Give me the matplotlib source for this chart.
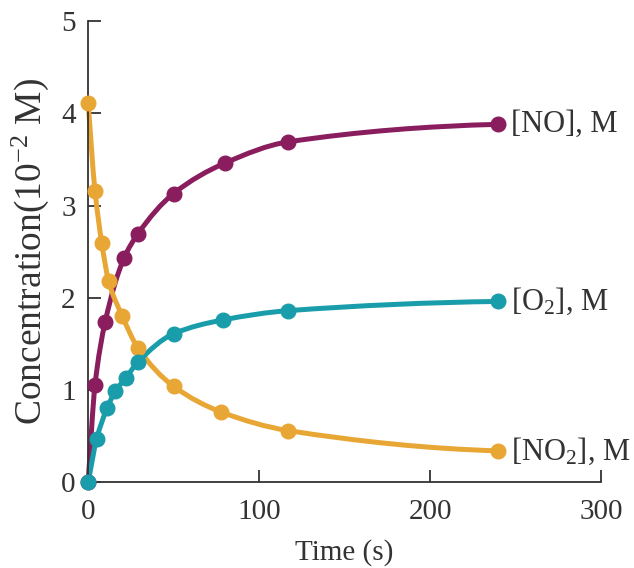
import numpy as np
import matplotlib.pyplot as plt
from matplotlib.path import Path
from matplotlib.patches import PathPatch

plt.rcParams['font.family'] = ['Liberation Serif', 'DejaVu Serif']
plt.rcParams['mathtext.fontset'] = 'custom'
plt.rcParams['mathtext.rm'] = 'Liberation Serif'
plt.rcParams['mathtext.it'] = 'Liberation Serif:italic'

# data (time in s, concentration in 10^-2 M)
no_t = [0, 4, 10, 21, 29, 50, 80, 117, 240]
no_c = [0, 1.05, 1.74, 2.43, 2.69, 3.13, 3.46, 3.69, 3.88]
o2_t = [0, 5, 11, 16, 22, 29, 50, 79, 117, 240]
o2_c = [0, 0.47, 0.80, 0.99, 1.13, 1.30, 1.61, 1.76, 1.86, 1.96]
no2_t = [0, 4, 8, 12, 20, 29, 50, 78, 117, 240]
no2_c = [4.11, 3.16, 2.59, 2.18, 1.80, 1.46, 1.04, 0.76, 0.56, 0.34]

labels = [r'[NO], M', r'[O$_2$], M', r'[NO$_2$], M']
colors = ['#8a1d5e', '#1a9daa', '#e8a635']


def pchip_slopes(x, y):
    x = np.asarray(x, float)
    y = np.asarray(y, float)
    h = np.diff(x)
    d = np.diff(y) / h
    m = np.zeros_like(y)
    for k in range(1, len(x) - 1):
        if d[k - 1] * d[k] > 0:
            w1 = 2 * h[k] + h[k - 1]
            w2 = h[k] + 2 * h[k - 1]
            m[k] = (w1 + w2) / (w1 / d[k - 1] + w2 / d[k])
    m[0] = d[0]
    m[-1] = d[-1] * 0.3
    return m


def smooth_path(x, y):
    # monotone cubic through the points, drawn as bezier segments
    m = pchip_slopes(x, y)
    verts = [(x[0], y[0])]
    codes = [Path.MOVETO]
    for k in range(len(x) - 1):
        h = x[k + 1] - x[k]
        verts += [(x[k] + h / 3, y[k] + m[k] * h / 3),
                  (x[k + 1] - h / 3, y[k + 1] - m[k + 1] * h / 3),
                  (x[k + 1], y[k + 1])]
        codes += [Path.CURVE4] * 3
    return Path(verts, codes)


fig = plt.figure(figsize=(6.34, 5.68), dpi=100)
ax = fig.add_axes([0.139, 0.151, 0.809, 0.812])

series = [(no_t, no_c), (no2_t, no2_c), (o2_t, o2_c)]
order = [0, 2, 1]
for (t, c), i in zip(series, order):
    ax.add_patch(PathPatch(smooth_path(t, c), facecolor='none',
                           edgecolor=colors[i], lw=3.6, clip_on=False,
                           capstyle='round', zorder=2))
    ax.plot(t, c, 'o', color=colors[i], ms=10.5, clip_on=False, zorder=3)
    ax.annotate(labels[i], (t[-1], c[-1]), xytext=(9, 0),
                textcoords='offset points', va='center', ha='left',
                fontsize=22, color='#333333', annotation_clip=False)

ax.set_xlim(0, 300)
ax.set_ylim(0, 5)
ax.set_xticks([0, 100, 200, 300])
ax.set_yticks([0, 1, 2, 3, 4, 5])
ax.tick_params(direction='in', length=9, width=1.3, color='#333333',
               labelsize=21, labelcolor='#333333')
ax.tick_params(axis='x', pad=12)
ax.tick_params(axis='y', pad=9)
for s in ['top', 'right']:
    ax.spines[s].set_visible(False)
for s in ['left', 'bottom']:
    ax.spines[s].set_color('#333333')
    ax.spines[s].set_linewidth(1.3)

ax.set_xlabel('Time (s)', fontsize=21, color='#333333', labelpad=10)
ax.set_ylabel(r'Concentration(10$^{-2}$ M)', fontsize=27, color='#333333',
              labelpad=7)

fig.savefig('out.png', dpi=100)
